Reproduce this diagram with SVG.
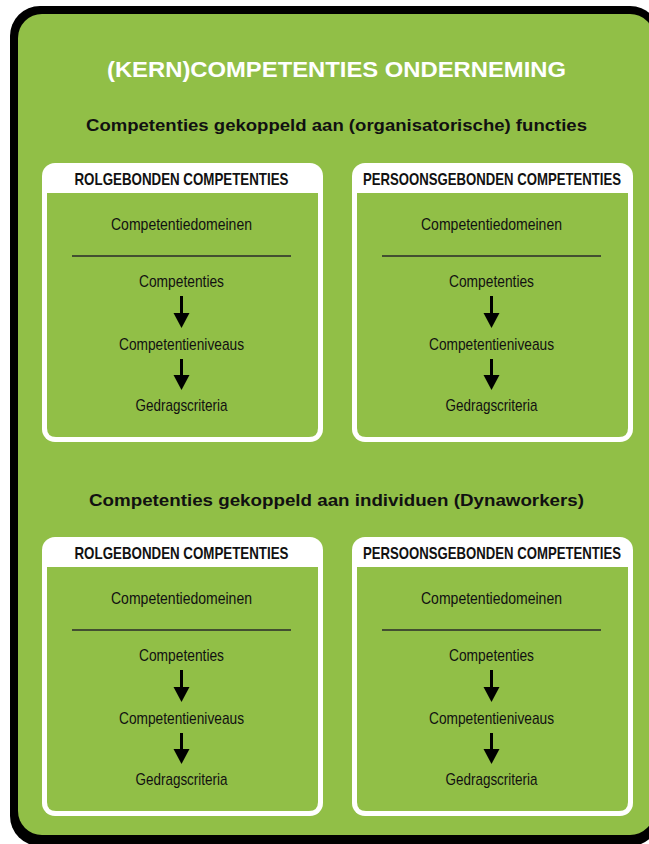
<svg xmlns="http://www.w3.org/2000/svg" width="649" height="844" viewBox="0 0 649 844">
<style>
.title{font-family:"Liberation Sans",Arial,sans-serif;font-weight:bold;font-size:22px;fill:#fff;text-anchor:middle}
.sub{font-family:"Liberation Sans",Arial,sans-serif;font-weight:bold;font-size:17px;fill:#111;text-anchor:middle}
.hdr{font-family:"Liberation Sans",Arial,sans-serif;font-weight:bold;font-size:17px;fill:#111;text-anchor:middle}
.item{font-family:"Liberation Sans",Arial,sans-serif;font-size:17px;fill:#111;text-anchor:middle}
.div{stroke:#2a2a2a;stroke-width:1.5}
.arr{fill:#000}
</style>
<defs>
<g id="card">
<rect x="0" y="0" width="281" height="279" rx="13" fill="#fff"/>
<path d="M5 30 H276 V265 Q276 274 267 274 H14 Q5 274 5 265 Z" fill="#91bf47"/>
<line class="div" x1="30" y1="93" x2="249" y2="93"/>
</g>
<g id="arrows">
<rect class="arr" x="-1.5" y="133" width="3" height="18"/>
<polygon class="arr" points="-8,150 8,150 0,165"/>
<rect class="arr" x="-1.5" y="196" width="3" height="17"/>
<polygon class="arr" points="-8,212 8,212 0,227"/>
</g>
</defs>
<rect x="10" y="6" width="650" height="840" rx="30" fill="#000"/>
<rect x="18" y="14" width="636" height="821" rx="24" fill="#91bf47"/>
<text class="title" x="336.5" y="77" textLength="459" lengthAdjust="spacingAndGlyphs">(KERN)COMPETENTIES ONDERNEMING</text>
<text class="sub" x="336.5" y="131" textLength="501" lengthAdjust="spacingAndGlyphs">Competenties gekoppeld aan (organisatorische) functies</text>
<text class="sub" x="336.5" y="506" textLength="495" lengthAdjust="spacingAndGlyphs">Competenties gekoppeld aan individuen (Dynaworkers)</text>

<g id="rol-functies" transform="translate(42,163)">
<use href="#card"/>
<text class="hdr" x="139.5" y="22" textLength="214" lengthAdjust="spacingAndGlyphs">ROLGEBONDEN COMPETENTIES</text>
<text class="item" x="139.5" y="67" textLength="141" lengthAdjust="spacingAndGlyphs">Competentiedomeinen</text>
<text class="item" x="139.5" y="124" textLength="85" lengthAdjust="spacingAndGlyphs">Competenties</text>
<text class="item" x="139.5" y="187" textLength="125" lengthAdjust="spacingAndGlyphs">Competentieniveaus</text>
<text class="item" x="139.5" y="248" textLength="92" lengthAdjust="spacingAndGlyphs">Gedragscriteria</text>
</g>
<g id="pers-functies" transform="translate(352,163)">
<use href="#card"/>
<text class="hdr" x="140" y="22" textLength="258" lengthAdjust="spacingAndGlyphs">PERSOONSGEBONDEN COMPETENTIES</text>
<text class="item" x="139.5" y="67" textLength="141" lengthAdjust="spacingAndGlyphs">Competentiedomeinen</text>
<text class="item" x="139.5" y="124" textLength="85" lengthAdjust="spacingAndGlyphs">Competenties</text>
<text class="item" x="139.5" y="187" textLength="125" lengthAdjust="spacingAndGlyphs">Competentieniveaus</text>
<text class="item" x="139.5" y="248" textLength="92" lengthAdjust="spacingAndGlyphs">Gedragscriteria</text>
</g>
<g id="rol-individuen" transform="translate(42,537)">
<use href="#card"/>
<text class="hdr" x="139.5" y="22" textLength="214" lengthAdjust="spacingAndGlyphs">ROLGEBONDEN COMPETENTIES</text>
<text class="item" x="139.5" y="67" textLength="141" lengthAdjust="spacingAndGlyphs">Competentiedomeinen</text>
<text class="item" x="139.5" y="124" textLength="85" lengthAdjust="spacingAndGlyphs">Competenties</text>
<text class="item" x="139.5" y="187" textLength="125" lengthAdjust="spacingAndGlyphs">Competentieniveaus</text>
<text class="item" x="139.5" y="248" textLength="92" lengthAdjust="spacingAndGlyphs">Gedragscriteria</text>
</g>
<g id="pers-individuen" transform="translate(352,537)">
<use href="#card"/>
<text class="hdr" x="140" y="22" textLength="258" lengthAdjust="spacingAndGlyphs">PERSOONSGEBONDEN COMPETENTIES</text>
<text class="item" x="139.5" y="67" textLength="141" lengthAdjust="spacingAndGlyphs">Competentiedomeinen</text>
<text class="item" x="139.5" y="124" textLength="85" lengthAdjust="spacingAndGlyphs">Competenties</text>
<text class="item" x="139.5" y="187" textLength="125" lengthAdjust="spacingAndGlyphs">Competentieniveaus</text>
<text class="item" x="139.5" y="248" textLength="92" lengthAdjust="spacingAndGlyphs">Gedragscriteria</text>
</g>
<g id="connectors">
<use href="#arrows" x="181.5" y="163"/>
<use href="#arrows" x="491.5" y="163"/>
<use href="#arrows" x="181.5" y="537"/>
<use href="#arrows" x="491.5" y="537"/>
</g>
</svg>
